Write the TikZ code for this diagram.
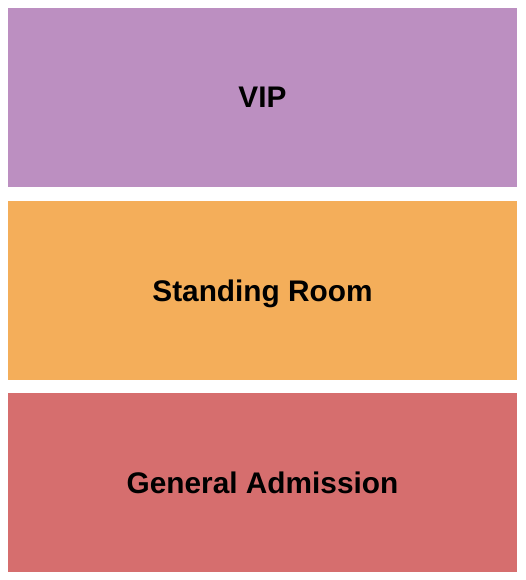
\documentclass[tikz,border=0pt]{standalone}
\usepackage{fontspec}
\setmainfont{Liberation Sans}
\definecolor{vipcol}{RGB}{188,143,193}
\definecolor{standcol}{RGB}{244,174,90}
\definecolor{gencol}{RGB}{214,110,110}
\tikzset{section/.style={minimum width=509pt, minimum height=179pt, inner sep=0pt, outer sep=0pt,
    text depth=0pt, font=\fontsize{29.8}{32}\selectfont\bfseries, text=black}}

\begin{document}
\begin{tikzpicture}[x=1pt, y=-1pt]
    \useasboundingbox (0,0) rectangle (525,580);
    \node[section, fill=vipcol] (vip) at (262.5,97.5) {VIP};
    \node[section, fill=standcol] (stand) at (262.5,290.5) {Standing Room};
    \node[section, fill=gencol] (gen) at (262.5,482.5) {General Admission};
\end{tikzpicture}
\end{document}
